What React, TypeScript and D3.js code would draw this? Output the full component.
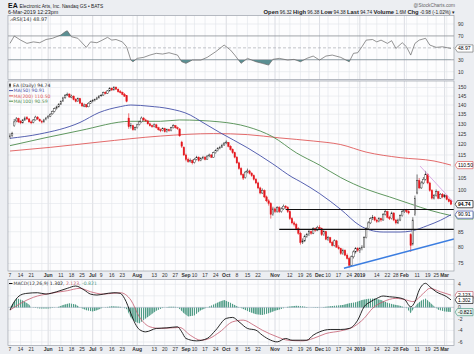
import React from 'react';
import * as d3 from 'd3';

const W = 474, H = 354;
const PL = 8, PR = 454;
const RSI_PANEL = [15.5, 79.5];
const PRICE_PANEL = [81, 271];
const MACD_PANEL = [279.5, 345.5];

const HOLIDAYS = ['2018-05-28', '2018-07-04', '2018-09-03', '2018-11-22', '2018-12-05', '2018-12-25', '2019-01-01', '2019-01-21', '2019-02-18'];
const fmt = d3.timeFormat('%Y-%m-%d');
const TRADING_DAYS: string[] = d3.timeDay
  .range(new Date(2018, 4, 7), new Date(2019, 2, 7))
  .filter(d => d.getDay() !== 0 && d.getDay() !== 6 && !HOLIDAYS.includes(fmt(d)))
  .map(fmt);

// [open, high, low, close] per trading day
const OHLC: number[][] = [
  [123.5,125.2,122.6,124],[124.2,126,123.5,125],[129,132.5,128.5,131],[131.5,133.5,130.8,132.5],[132.8,133.2,130.5,131],
  [131.2,132,129.8,130.5],[130.5,132.5,130.2,132],[132,133.8,131.5,133],[133.2,134,132,132.5],[132.5,133,130.6,131],
  [131,131.8,129.8,130.5],[130.8,132.5,130.3,132],[132,134.2,131.7,133.5],[133.5,134,132,132.5],[132.3,132.8,131,131.5],
  [131.2,132,130.2,131],[131,132.6,130.6,132],[132.2,133.6,131.8,133],[133.2,134.5,132.6,134],[134,135.6,133.5,135],
  [135.2,137,134.8,136.5],[136.5,138.6,136,138],[138.2,139.6,137.5,139],[139,141,138.6,140.5],[140.5,142.6,140,142],
  [142.2,144.6,141.8,144],[144,146.2,143.5,145.5],[145.6,147,145,146],[146.2,146.5,144,144.5],[144.3,145.8,143.8,145],
  [145,145.4,142.6,143],[143.2,143.8,141.5,142],[142,144.2,141.8,143.5],[143.6,144,140.5,141],[141,141.6,139,139.5],
  [139.3,140.8,138.8,140],[140.2,140.6,138.5,139],[139,141.6,138.8,141],[141,142.6,140.6,142],[142.2,143.2,141.5,142.5],
  [142.5,143.6,142,143],[143.2,144.6,142.8,144],[144,145.6,143.6,145],[145.2,146.2,144.6,145.5],[145.6,147.6,145.2,147],
  [147.2,147.8,146,146.5],[146.6,148.5,146.2,148],[148,150.2,147.6,149.5],[149.6,150,148,148.5],[148.6,150.8,148.2,150],
  [150.2,150.6,148.5,149],[149,149.5,147,147.5],[147.6,148.5,146.5,147],[147.2,147.6,145.5,146],[146,146.8,144.5,145],
  [145.2,145.6,141.5,142],[133,135.5,127.5,128.5],[128.6,130.5,127.6,129],[129,129.5,126.5,127],[127.2,128.6,126.6,128],
  [128,130,127.6,129.5],[129.6,131.6,129.2,131],[131,133.8,130.6,133],[133,133.5,131.5,132],[132,132.6,131,131.5],
  [131.5,132,129.6,130],[130,130.6,128.6,129],[129,129.6,128,128.5],[128.6,130.2,128.2,129.5],[129.5,130,127.6,128],
  [128,128.5,126.6,127],[127,127.6,125.8,126.5],[126.6,128.2,126.2,127.5],[127.5,128,125.6,126],[126,127.6,125.6,127],
  [127,127.5,126,126.5],[126.6,128.5,126.2,128],[128,129.8,127.6,129],[129,129.4,127.6,128],[128,128.6,127,127.5],
  [127.4,127.8,123.5,124],[121,121.6,118.2,119],[118.5,119,114.5,115],[115,115.6,112.2,113],[113,113.8,111.5,112],
  [112,113.4,111.6,112.5],[112.5,113,110.8,111.5],[111.6,113.6,111.2,113],[113,114.6,112.6,114],[114,114.4,112,112.5],
  [112.6,114,112.2,113.5],[113.6,114.6,113,114],[114,114.5,112.6,113],[113,115,112.8,114.5],[114.6,115.6,114,115],
  [115,115.4,113.6,114],[114,116.5,113.8,116],[116,117.6,115.6,117],[117,118.6,116.6,118],[118,119.2,117.6,118.5],
  [118.6,120.2,118.2,119.5],[119.6,121,119.2,120.5],[120.6,121.8,120,121],[120.8,121,118.5,119],[119,119.5,117,117.5],
  [117.5,118,115.5,116],[116,116.5,113.5,114],[114,114.5,111,111.5],[111.5,112,108.5,109],[109,109.6,106,106.5],
  [106.5,107,104.2,105],[105.2,108,104.8,107.5],[107.6,109,107,108],[108,108.5,106.5,107],[107,107.5,105.5,106],
  [106,106.5,104,104.5],[104.5,105,102.5,103],[103,103.5,100.5,101],[101,101.5,98.5,99],[99,100.8,98.6,100],
  [100,100.4,97,97.5],[97.5,98,95.5,96],[96,96.6,94.2,95],[95,95.5,89.5,91],[91,93.8,90.5,93],
  [93,93.5,91.5,92],[92,94,91.6,93.5],[93.5,94,91.5,92],[92,93.6,91.6,93],[93,94.6,92.6,94],
  [94,94.4,93,93.5],[93.5,94,91.5,92],[92,92.5,89,89.5],[89.5,90,87.5,88],[88,88.6,86.8,87.5],
  [87.5,88,85.5,86],[86,86.5,84,84.5],[84.5,85,80.8,81.5],[81.5,82.8,81,82],[82,84,81.6,83.5],
  [83.5,84.6,83,84],[84,85.6,83.6,85],[85,85.4,84,84.5],[84.5,86.5,84.2,86],[86,86.4,85,85.5],
  [85.5,87,85.2,86.5],[86.5,87.2,85.6,86],[86,86.4,83.6,84],[84,85.5,83.6,85],[85,85.3,82.2,82.5],
  [82.5,83.6,82,83],[83,83.3,81.2,81.5],[81.5,82,80.2,80.5],[80.5,82.5,80.2,82],[82,82.3,79.8,80],
  [80,80.6,79.2,79.5],[79.5,79.8,77.6,78],[78,79.5,77.6,79],[79,79.3,77.2,77.5],[77.5,78,76.2,76.5],
  [76.5,77,73.8,74.5],[74.5,77.4,74.2,77],[77,79,76.5,78.5],[78.5,80,78,79.5],[79.5,80,78.5,79],
  [79,80,78.2,79.5],[79.5,80.6,79,80],[80,83.5,79.8,83],[83,86.5,82.8,86],[86,88.6,85.6,88],
  [88,90,87.6,89.5],[89.5,90.8,89,90],[90,90.4,88.6,89],[89,89.5,88,88.5],[88.5,90,88.2,89.5],
  [89.5,89.8,88.4,89],[89,91.5,88.8,91],[91,92.6,90.6,92],[92,92.3,89.6,90],[90,90.5,89,89.5],
  [89.5,92,89.2,91.5],[91.5,91.8,88.6,89],[89,89.4,87.5,88],[88,89.5,87.6,89],[89,91,88.6,90.5],
  [90.5,92.6,90.2,92],[92,93,91.5,92.5],[92.5,93,91.5,92],[92,92.5,91,91.5],[84,84.5,78.5,80.5],
  [81,90,80.5,89],[91,98,90.5,97],[99,106.5,98.5,104],[104,105,100.5,101],[101,103.8,100.6,103],
  [103,105.4,102.5,104.5],[104.5,108,104,106.5],[106.5,107,102.5,103],[103,103.5,99.5,100],[100,100.5,96.5,97],
  [97,98.6,96.5,98],[98,100.4,97.6,99.5],[99.5,99.8,96.6,97],[97,99,96.8,98.5],[98.5,99,97,97.5],
  [97.5,98.6,97,98],[98,98.3,96.2,96.5],[96.5,97,95.4,95.72],[96.32,96.38,94.38,94.74],
];

// [trading-day index, value]
const MA50: number[][] = [[0,122.8],[14,124.9],[33,130.7],[42,135.9],[52,139.1],[57,140],[66,139.3],[75,138],[85,134.6],[90,131.3],[99,125.6],[112,118.3],[124,111],[133,105.4],[137,103.5],[146,98.8],[156,92.8],[165,87.1],[170,85.5],[176,84.9],[184,84.9],[189,85.2],[197,87.1],[203,88.9],[208,90.91]];
const MA200: number[][] = [[0,116.8],[19,118.5],[42,121],[71,123.9],[96,125.1],[112,124.6],[127,123],[143,121.5],[156,119.8],[168,116.3],[184,113.8],[200,112.3],[208,110.5]];
const MA100: number[][] = [[0,119.3],[33,126.6],[57,131.3],[71,131.3],[80,132],[99,131],[112,128.5],[124,123.5],[135,116],[146,110.5],[156,105.2],[168,100.5],[179,97.5],[189,94.8],[198,92.5],[208,90.59]];

const RSI: number[][] = [[0,57.5],[2,69.8],[5,63],[8,57.5],[11,60],[14,58.6],[17,64],[20,66],[24,71.5],[26,77],[27,78.7],[29,68.6],[32,66],[36,50.8],[38,60],[41,58.6],[43,62],[46,67.6],[48,63],[50,64],[53,60],[55,51.8],[57,29.5],[58,26.7],[60,32.4],[63,34],[66,37.9],[69,40.8],[72,39.6],[75,41.8],[79,37.9],[81,26.7],[83,24],[86,29.5],[90,29.5],[93,34],[97,43.5],[101,54.7],[104,46.3],[106,37.9],[109,24],[112,32.4],[116,26.7],[119,24],[122,21.1],[124,30.7],[127,32.4],[131,29.5],[134,30.7],[137,26.7],[140,32.4],[143,36.2],[146,29.5],[149,36.2],[152,37.9],[156,34],[160,26.7],[162,40.8],[164,41.8],[166,51.8],[168,63],[171,64],[173,60],[175,63],[178,57.5],[180,62],[182,49],[185,58.6],[187,51.8],[189,37.9],[191,57.5],[193,63],[196,66],[198,54.7],[201,50.8],[204,51.8],[208,48.97]];

const MACD: number[][] = [[0,-0.47],[2,0.97],[5,2.14],[8,2.43],[13,2.54],[17,2.31],[22,2.71],[27,3.3],[31,3.7],[35,3.0],[38,2.3],[41,2.14],[44,2.3],[49,2.54],[52,2.43],[54,1.56],[57,-1.04],[59,-2.78],[61,-3.83],[64,-4.24],[69,-3.65],[74,-3.55],[79,-3.37],[81,-4.24],[83,-5.39],[88,-5.8],[93,-5.39],[97,-3.95],[102,-1.91],[105,-1.74],[108,-2.5],[112,-3.65],[116,-3.95],[119,-4.82],[123,-5.69],[126,-5.98],[130,-5.39],[133,-5.69],[137,-5.69],[140,-5.69],[143,-4.82],[146,-4.24],[151,-3.83],[156,-3.83],[160,-3.65],[164,-2.21],[167,0.1],[170,0.97],[173,1.56],[176,1.97],[179,1.84],[182,1.74],[186,1.39],[189,0.1],[191,0.97],[193,3.0],[196,4.17],[198,3.58],[201,2.71],[206,1.84],[208,1.302]];
const SIGNAL: number[][] = [[0,-0.47],[5,0.7],[11,1.74],[19,2.43],[27,2.89],[33,3.3],[38,2.71],[44,2.3],[52,2.54],[57,1.27],[61,-1.63],[66,-3.37],[71,-3.65],[80,-3.48],[85,-4.82],[90,-5.69],[94,-5.39],[99,-4.24],[105,-2.5],[110,-2.21],[115,-3.08],[119,-3.95],[126,-5.1],[131,-5.69],[138,-5.8],[143,-5.39],[149,-4.53],[156,-4.07],[162,-3.37],[167,-1.91],[171,-0.17],[176,0.97],[182,1.56],[187,1.27],[190,1.0],[195,2.43],[198,3.3],[203,2.71],[208,2.123]];
const HIST: number[][] = [[0,0],[2,1.0],[3,1.5],[4,1.5],[6,1.2],[9,0.5],[10,0],[14,-0.2],[18,-0.2],[22,0],[25,0.4],[28,0.7],[31,0.5],[33,0],[36,-0.5],[39,-0.7],[41,-0.5],[44,0],[48,0.2],[52,0.1],[55,-0.3],[57,-1.8],[59,-2.5],[61,-2.8],[63,-2.2],[66,-1.4],[69,-0.6],[72,-0.1],[75,0.1],[78,0.1],[80,-0.3],[82,-1.0],[84,-1.6],[87,-1.4],[90,-0.5],[93,0],[96,0.5],[99,1.0],[101,1.27],[104,0.8],[107,0.2],[110,-0.3],[113,-0.8],[116,-1.2],[119,-1.34],[122,-1.0],[125,-0.6],[128,-0.3],[131,0.1],[135,0.3],[138,0.2],[141,0],[145,-0.1],[149,0.1],[153,0.3],[157,0.4],[160,0.7],[163,0.9],[166,1.3],[169,1.5],[172,1.56],[175,1.3],[178,0.8],[181,0.5],[184,0.3],[187,-0.1],[189,-1.0],[190,-0.4],[192,0.6],[194,1.2],[196,1.56],[198,0.9],[200,0.2],[202,-0.4],[205,-0.7],[208,-0.821]];

// date ticks: [date, label, isMonth]
const TICKS: [string, string, boolean][] = [
  ['2018-05-07','7',false],['2018-05-14','14',false],['2018-05-21','21',false],['2018-05-29','',false],['2018-06-01','Jun',true],['2018-06-04','',false],['2018-06-11','11',false],['2018-06-18','18',false],['2018-06-25','25',false],
  ['2018-07-02','Jul',true],['2018-07-09','9',false],['2018-07-16','16',false],['2018-07-23','23',false],['2018-07-30','',false],['2018-08-01','Aug',true],['2018-08-06','',false],['2018-08-13','13',false],['2018-08-20','20',false],['2018-08-27','27',false],
  ['2018-09-04','Sep',true],['2018-09-10','10',false],['2018-09-17','17',false],['2018-09-24','24',false],['2018-10-01','Oct',true],['2018-10-08','8',false],['2018-10-15','15',false],['2018-10-22','22',false],['2018-10-29','',false],
  ['2018-11-01','Nov',true],['2018-11-05','',false],['2018-11-12','12',false],['2018-11-19','19',false],['2018-11-26','26',false],['2018-12-03','Dec',true],['2018-12-10','10',false],['2018-12-17','17',false],['2018-12-24','24',false],['2018-12-31','',false],
  ['2019-01-02','2019',true],['2019-01-07','',false],['2019-01-14','14',false],['2019-01-22','22',false],['2019-01-28','28',false],['2019-02-01','Feb',true],['2019-02-04','',false],['2019-02-11','11',false],['2019-02-19','19',false],['2019-02-25','25',false],
  ['2019-03-01','Mar',true],['2019-03-04','',false],
];

const PRICE_TICKS = [150, 145, 140, 135, 130, 125, 120, 115, 110, 105, 100, 95, 90, 85, 80, 75];
const PRICE_LABELS = [150, 145, 140, 135, 130, 125, 120, 115, 105, 100, 85, 80, 75];
const RSI_TICKS = [90, 70, 50, 30, 10];
const RSI_LABELS = [90, 70, 30, 10];
const MACD_TICKS = [4, 2, 0, -2, -4, -6];
const MACD_LABELS = [4, 0, -2, -4, -6];

// annotations: [day index, price]
const RESIST = { from: 130, price: 92.8 };
const SUPPORT = { from: 127, price: 85.8 };
const UP_TREND = [[157.5, 73.6], [209.4, 82.6]];
const DOWN_TREND = [[193.4, 110.1], [209, 95.6]];

const FONT = 'Liberation Sans, Arial, sans-serif';
const VFONT = 'DejaVu Sans, Verdana, sans-serif';

function Tag({ y, text, stroke, fill = '#fff', color = '#000', bold = false }: any) {
  const x0 = 455, x1 = 473, h = 3.6;
  return (
    <g>
      <path d={`M${x0},${y} L${x0 + 2.5},${y - h} L${x1},${y - h} L${x1},${y + h} L${x0 + 2.5},${y + h} Z`} fill={fill} stroke={stroke} strokeWidth={0.7} />
      <text x={x0 + 3} y={y + 1.8} fontSize={5} fontFamily={FONT} fill={color} fontWeight={bold ? 'bold' : 'normal'}>{text}</text>
    </g>
  );
}

export default function App() {
  const x = d3.scaleLinear().domain([0, TRADING_DAYS.length - 1]).range([10, 451]);
  const idx = new Map(TRADING_DAYS.map((d, i) => [d, i]));
  const yP = d3.scaleLog().domain([75, 150]).range([263.5, 87.5]);
  const yR = d3.scaleLinear().domain([10, 90]).range([71.7, 24]);
  const yM = d3.scaleLinear().domain([-6, 4]).range([342, 284.3]);

  const maLine = d3.line<number[]>().x(d => x(d[0])).y(d => yP(d[1])).curve(d3.curveMonotoneX);
  const rsiLine = d3.line<number[]>().x(d => x(d[0])).y(d => yR(d[1]));
  const rsiArea = (lvl: number) => d3.area<number[]>().x(d => x(d[0])).y0(yR(lvl)).y1(d => yR(d[1]))(RSI) || '';
  const mLine = d3.line<number[]>().x(d => x(d[0])).y(d => yM(d[1])).curve(d3.curveMonotoneX);
  const hArea = d3.area<number[]>().x(d => x(d[0])).y0(yM(0)).y1(d => yM(d[1]));

  const panels = [RSI_PANEL, PRICE_PANEL, MACD_PANEL];
  const step = x(1) - x(0);

  const vGrid = (top: number, bot: number) =>
    TICKS.map(([d, , m], k) => {
      const i = idx.get(d);
      if (i === undefined) return null;
      return <line key={k} x1={x(i)} x2={x(i)} y1={top} y2={bot} stroke={m ? '#c4c8d0' : '#e1e4ea'} strokeWidth={0.6} />;
    });

  const dateLabels = (yy: number) =>
    TICKS.map(([d, lab, m], k) => {
      const i = idx.get(d);
      if (i === undefined || !lab) return null;
      return <text key={k} x={x(i)} y={yy} fontSize={5} textAnchor="middle" fontFamily={FONT} fontWeight={m ? 'bold' : 'normal'} fill="#333">{lab}</text>;
    });

  return (
    <div style={{ position: 'absolute', left: 0, top: 0, width: W, height: H }}>
      <svg width={W} height={H} style={{ display: 'block' }}>
        <defs>
          <clipPath id="cR"><rect x={PL} y={RSI_PANEL[0]} width={PR - PL} height={RSI_PANEL[1] - RSI_PANEL[0]} /></clipPath>
          <clipPath id="cRhi"><rect x={PL} y={RSI_PANEL[0]} width={PR - PL} height={yR(70) - RSI_PANEL[0]} /></clipPath>
          <clipPath id="cRlo"><rect x={PL} y={yR(30)} width={PR - PL} height={RSI_PANEL[1] - yR(30)} /></clipPath>
          <clipPath id="cP"><rect x={PL} y={PRICE_PANEL[0]} width={PR - PL} height={PRICE_PANEL[1] - PRICE_PANEL[0]} /></clipPath>
          <clipPath id="cM"><rect x={PL} y={MACD_PANEL[0]} width={PR - PL} height={MACD_PANEL[1] - MACD_PANEL[0]} /></clipPath>
          <pattern id="hpat" patternUnits="userSpaceOnUse" x={x(0) - 0.7} y={0} width={step} height={10}>
            <rect x={0} y={0} width={1.4} height={10} fill="#4f9c86" />
          </pattern>
        </defs>
        <rect x={0} y={0} width={W} height={H} fill="#eceef2" />
        {panels.map((p, k) => (
          <rect key={k} x={PL} y={p[0]} width={PR - PL} height={p[1] - p[0]} fill="#fdfdfe" />
        ))}

        {/* header */}
        <text x={8} y={8} fontFamily={FONT} fontSize={7} fontWeight="bold" fill="#111">EA</text>
        <text x={19.5} y={8} fontFamily={FONT} fontSize={4.8} fill="#222">Electronic Arts, Inc.  Nasdaq GS • BATS</text>
        <text x={8} y={14} fontFamily={FONT} fontSize={5.4} fill="#222">6-Mar-2019 12:23pm</text>
        <text x={455} y={7} fontFamily={FONT} fontSize={4.8} fill="#666" textAnchor="end">@StockCharts.com</text>
        <text x={455} y={14} fontFamily={FONT} fontSize={4.8} fill="#222" textAnchor="end">
          <tspan fontWeight="bold" fontSize={5.8}>Open</tspan> 96.32 <tspan fontWeight="bold" fontSize={5.8}>High</tspan> 96.38 <tspan fontWeight="bold" fontSize={5.8}>Low</tspan> 94.38 <tspan fontWeight="bold" fontSize={5.8}>Last</tspan> 94.74 <tspan fontWeight="bold" fontSize={5.8}>Volume</tspan> 1.6M <tspan fontWeight="bold" fontSize={5.8}>Chg</tspan> -0.98 (-1.02%) ▾
        </text>

        {/* ---------- RSI panel ---------- */}
        {vGrid(RSI_PANEL[0], RSI_PANEL[1])}
        {RSI_TICKS.map(t => (
          <line key={t} x1={PL} x2={PR} y1={yR(t)} y2={yR(t)}
            stroke={t === 70 || t === 30 ? '#8a8e96' : t === 50 ? '#9a9ea6' : '#e1e4ea'}
            strokeWidth={t === 70 || t === 30 ? 0.8 : 0.6} strokeDasharray={t === 50 ? '3,2' : undefined} />
        ))}
        <g clipPath="url(#cRhi)"><path d={rsiArea(70)} fill="#5b8f93" /></g>
        <g clipPath="url(#cRlo)"><path d={rsiArea(30)} fill="#5b8f93" /></g>
        <g clipPath="url(#cR)"><path d={rsiLine(RSI) || ''} fill="none" stroke="#666" strokeWidth={0.7} /></g>
        <text x={10} y={20.5} fontFamily={VFONT} fontSize={5} fill="#333">⩘RSI(14) 48.97</text>
        {RSI_LABELS.map(t => (
          <text key={t} x={458} y={yR(t) + 1.8} fontSize={5} fontFamily={FONT} fill="#333">{t}</text>
        ))}
        <Tag y={yR(48.97)} text="48.97" stroke="#777" />

        {/* ---------- Price panel ---------- */}
        {vGrid(PRICE_PANEL[0], PRICE_PANEL[1])}
        {PRICE_TICKS.map(t => (
          <line key={t} x1={PL} x2={PR} y1={yP(t)} y2={yP(t)} stroke="#e1e4ea" strokeWidth={0.6} />
        ))}
        <g clipPath="url(#cP)">
          <path d={maLine(MA200) || ''} fill="none" stroke="#e05a5a" strokeWidth={0.9} />
          <path d={maLine(MA100) || ''} fill="none" stroke="#4e8c4e" strokeWidth={0.9} />
          <path d={maLine(MA50) || ''} fill="none" stroke="#4450a8" strokeWidth={0.9} />
          {OHLC.map(([o, h, l, c], i) => {
            const prev = i > 0 ? OHLC[i - 1][3] : o;
            const col = c >= prev ? '#222' : '#e4161c';
            const hollow = c > o;
            const cx = x(i);
            const yt = yP(Math.max(o, c)), yb = yP(Math.min(o, c));
            return (
              <g key={i}>
                <line x1={cx} x2={cx} y1={yP(h)} y2={yP(l)} stroke={col} strokeWidth={0.6} />
                <rect x={cx - 0.75} y={yt} width={1.5} height={Math.max(0.6, yb - yt)} fill={hollow ? '#fff' : col} stroke={col} strokeWidth={0.4} />
              </g>
            );
          })}
          <line x1={x(RESIST.from)} x2={PR} y1={yP(RESIST.price)} y2={yP(RESIST.price)} stroke="#111" strokeWidth={1.1} />
          <line x1={x(SUPPORT.from)} x2={PR} y1={yP(SUPPORT.price)} y2={yP(SUPPORT.price)} stroke="#111" strokeWidth={1.1} />
          <line x1={x(UP_TREND[0][0])} y1={yP(UP_TREND[0][1])} x2={x(UP_TREND[1][0])} y2={yP(UP_TREND[1][1])} stroke="#3b7de0" strokeWidth={1.4} />
          <line x1={x(DOWN_TREND[0][0])} y1={yP(DOWN_TREND[0][1])} x2={x(DOWN_TREND[1][0])} y2={yP(DOWN_TREND[1][1])} stroke="#d7a3e3" strokeWidth={0.9} />
        </g>
        <g fontFamily={VFONT} fontSize={4.6}>
          <line x1={10} x2={10} y1={83} y2={87.5} stroke="#222" strokeWidth={0.6} />
          <rect x={9.3} y={84} width={1.4} height={2.5} fill="#222" />
          <text x={13} y={87} fill="#222">EA (Daily) 94.74</text>
          <line x1={9} x2={13} y1={90.6} y2={90.6} stroke="#4450a8" strokeWidth={1} />
          <text x={13.5} y={92.3} fill="#4450a8">MA(50) 90.91</text>
          <line x1={9} x2={13} y1={95.9} y2={95.9} stroke="#e05a5a" strokeWidth={1} />
          <text x={13.5} y={97.6} fill="#e05a5a">MA(200) 110.50</text>
          <line x1={9} x2={13} y1={101.2} y2={101.2} stroke="#4e8c4e" strokeWidth={1} />
          <text x={13.5} y={102.9} fill="#4e8c4e">MA(100) 90.59</text>
        </g>
        {PRICE_LABELS.map(t => (
          <text key={t} x={458} y={yP(t) + 1.8} fontSize={5} fontFamily={FONT} fill="#333">{t}</text>
        ))}
        <Tag y={yP(110.5)} text="110.50" stroke="#e05a5a" />
        <Tag y={yP(90.59)} text="90.59" stroke="#4e8c4e" />
        <Tag y={yP(90.91)} text="90.91" stroke="#4450a8" />
        <Tag y={yP(94.74)} text="94.74" stroke="#111" bold />

        {/* date axes */}
        {dateLabels(277.3)}
        {dateLabels(351)}

        {/* ---------- MACD panel ---------- */}
        {vGrid(MACD_PANEL[0], MACD_PANEL[1])}
        {MACD_TICKS.map(t => (
          <line key={t} x1={PL} x2={PR} y1={yM(t)} y2={yM(t)} stroke="#e1e4ea" strokeWidth={0.6} />
        ))}
        <g clipPath="url(#cM)">
          <path d={hArea(HIST) || ''} fill="url(#hpat)" />
          <line x1={PL} x2={PR} y1={yM(0)} y2={yM(0)} stroke="#9ab" strokeWidth={0.4} />
          <path d={mLine(SIGNAL) || ''} fill="none" stroke="#c45c6e" strokeWidth={0.8} />
          <path d={mLine(MACD) || ''} fill="none" stroke="#111" strokeWidth={0.9} />
        </g>
        <g fontFamily={VFONT} fontSize={4.6}>
          <line x1={9} x2={12.5} y1={283.5} y2={283.5} stroke="#111" strokeWidth={1} />
          <text x={13.5} y={285.2} fill="#333">MACD(12,26,9) <tspan fill="#111">1.302</tspan>, <tspan fill="#c45c6e">2.123</tspan>, <tspan fill="#4f9c86">-0.821</tspan></text>
        </g>
        {MACD_LABELS.map(t => (
          <text key={t} x={458} y={yM(t) + 1.8} fontSize={5} fontFamily={FONT} fill="#333">{t}</text>
        ))}
        <Tag y={yM(2.123)} text="2.123" stroke="#c45c6e" />
        <Tag y={yM(1.302)} text="1.302" stroke="#111" />
        <Tag y={yM(-0.821)} text="-0.821" stroke="#4f9c86" fill="#e6f2ee" />

        {panels.map((p, k) => (
          <rect key={k} x={PL} y={p[0]} width={PR - PL} height={p[1] - p[0]} fill="none" stroke="#9aa0aa" strokeWidth={0.7} />
        ))}
      </svg>
    </div>
  );
}
